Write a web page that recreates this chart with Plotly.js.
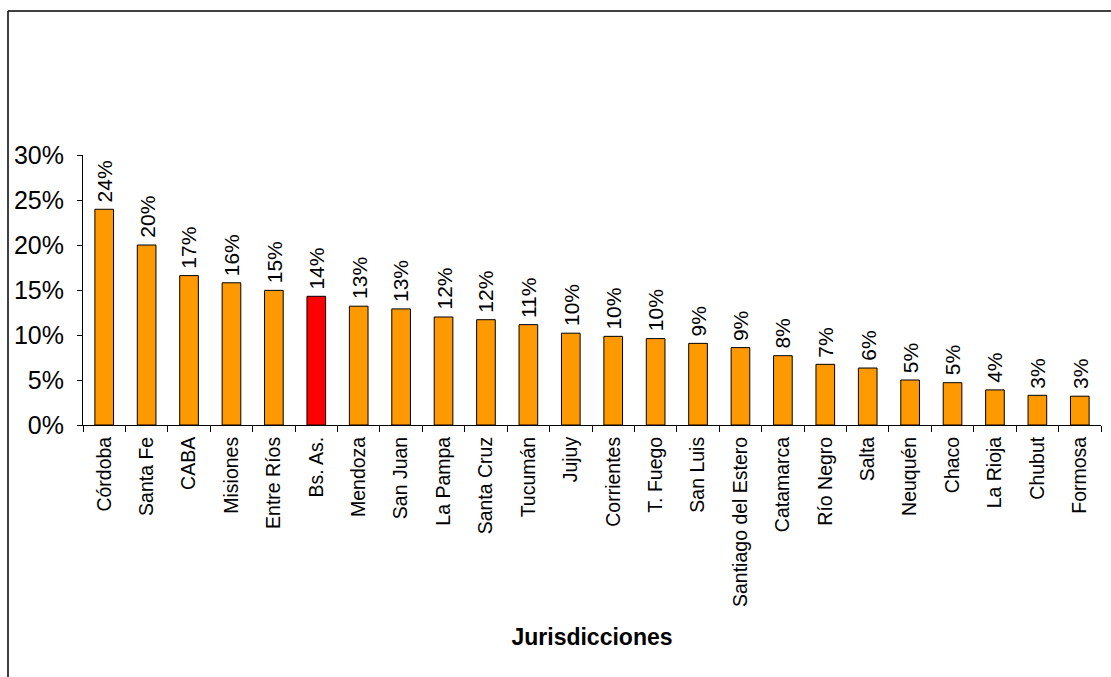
<!DOCTYPE html>
<html>
<head>
<meta charset="utf-8">
<script src="https://cdn.plot.ly/plotly-3.0.1.min.js"></script>
<style>html,body{margin:0;padding:0;background:#fff;}#chart{width:1111px;height:677px;}</style>
</head>
<body>
<div id="chart"></div>
<script>
const categories = ["Córdoba","Santa Fe","CABA","Misiones","Entre Ríos","Bs. As.","Mendoza","San Juan","La Pampa","Santa Cruz","Tucumán","Jujuy","Corrientes","T. Fuego","San Luis","Santiago del Estero","Catamarca","Río Negro","Salta","Neuquén","Chaco","La Rioja","Chubut","Formosa"];
const values = [23.97, 20.0, 16.6, 15.8, 14.96, 14.3, 13.2, 12.9, 12.0, 11.7, 11.15, 10.2, 9.85, 9.6, 9.07, 8.6, 7.7, 6.74, 6.33, 5.0, 4.7, 3.9, 3.3, 3.2];
const highlight = "Bs. As.";
const yTickVals = [0, 5, 10, 15, 20, 25, 30];
const yTickText = ["0%", "5%", "10%", "15%", "20%", "25%", "30%"];

const W = 1111, H = 677;
const m = {l: 83, r: 10, t: 155, b: 252};
const pw = W - m.l - m.r, ph = H - m.t - m.b;
const px = x => (x - m.l) / pw;
const py = y => (H - m.b - y) / ph;

const colors = categories.map(c => c === highlight ? "#FF0000" : "#FF9900");

const trace = {
  type: "bar",
  x: categories,
  y: values,
  marker: {color: colors, line: {color: "#000000", width: 1}},
  hoverinfo: "x+y"
};

const annotations = categories.map((c, i) => ({
  x: c, y: values[i], xref: "x", yref: "y",
  text: Math.round(values[i]) + "%",
  textangle: -90,
  showarrow: false,
  xanchor: "center", yanchor: "bottom",
  yshift: 5,
  font: {family: "Liberation Sans, Arial, sans-serif", size: 21, color: "#000"}
}));

const layout = {
  width: W, height: H,
  margin: m,
  paper_bgcolor: "#fff",
  plot_bgcolor: "#fff",
  showlegend: false,
  bargap: 0.56,
  font: {family: "Liberation Sans, Arial, sans-serif", color: "#000"},
  xaxis: {
    type: "category",
    tickangle: -90,
    tickfont: {size: 19.5, color: "#000"},
    showline: true, linecolor: "#000", linewidth: 1,
    ticks: "outside", ticklen: 6, tickcolor: "#000", tickson: "boundaries",
    ticklabelstandoff: 3,
    showgrid: false,
    title: {text: "<b>Jurisdicciones</b>", font: {size: 23, color: "#000"}, standoff: 22},
    automargin: false
  },
  yaxis: {
    range: [0, 30],
    tickvals: yTickVals,
    ticktext: yTickText,
    tickmode: "array",
    tickfont: {size: 25, color: "#000"},
    showline: true, linecolor: "#000", linewidth: 1,
    ticks: "outside", ticklen: 5, tickcolor: "#000",
    ticklabelstandoff: 8,
    showgrid: false, zeroline: false,
    automargin: false
  },
  annotations: annotations,
  shapes: [
    {type: "line", xref: "paper", yref: "paper", x0: px(8), x1: px(8), y0: py(11), y1: py(H), line: {color: "#000", width: 1.5}},
    {type: "line", xref: "paper", yref: "paper", x0: px(8), x1: px(W), y0: py(11), y1: py(11), line: {color: "#000", width: 1.5}}
  ]
};

Plotly.newPlot("chart", [trace], layout, {displayModeBar: false, staticPlot: true});
</script>
</body>
</html>
